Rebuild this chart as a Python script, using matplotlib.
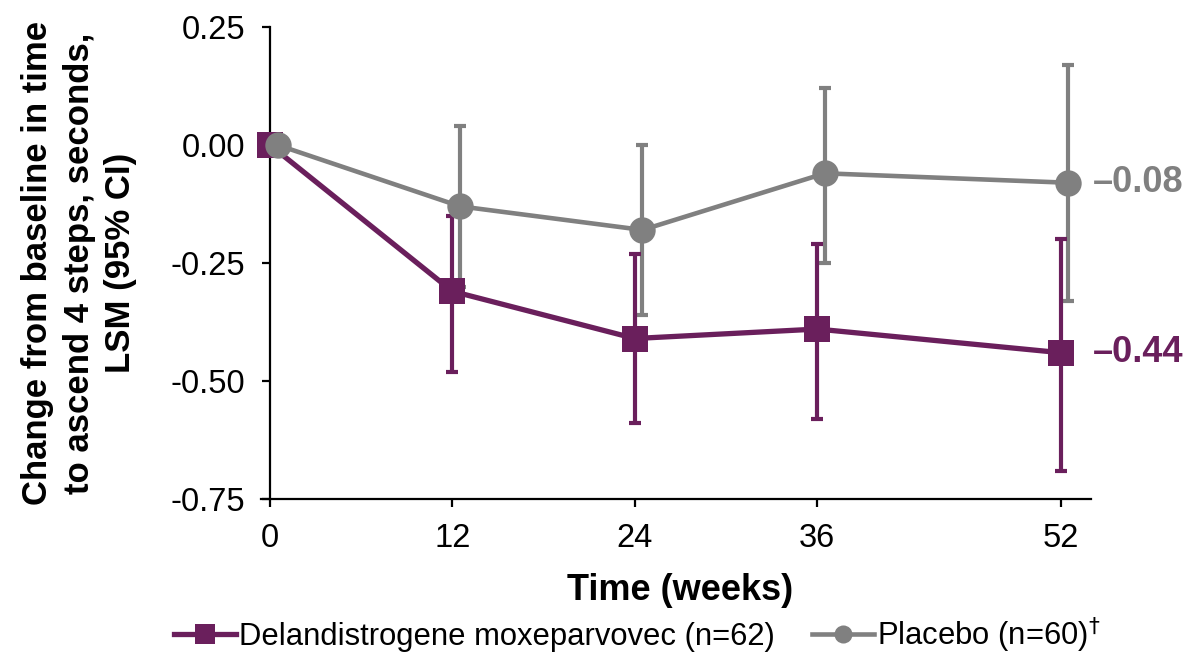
import matplotlib
matplotlib.use("Agg")
import matplotlib.pyplot as plt
from matplotlib.lines import Line2D
import numpy as np

plt.rcParams['font.family'] = ['Liberation Sans', 'DejaVu Sans']

# data
weeks = [0, 12, 24, 36, 52]

dm_lsm = [0.0, -0.31, -0.41, -0.39, -0.44]
dm_low = [0.0, -0.48, -0.59, -0.58, -0.69]
dm_up = [0.0, -0.15, -0.23, -0.21, -0.20]

pl_lsm = [0.0, -0.13, -0.18, -0.06, -0.08]
pl_low = [0.0, -0.30, -0.36, -0.25, -0.33]
pl_up = [0.0, 0.04, 0.00, 0.12, 0.17]

yticks = [0.25, 0.0, -0.25, -0.50, -0.75]
ytick_labels = ['0.25', '0.00', '-0.25', '-0.50', '-0.75']

dm_name = 'Delandistrogene moxeparvovec (n=62)'
pl_name = 'Placebo (n=60)$^{\\dagger}$'

purple = '#6a1f5c'
grey = '#808080'

fig = plt.figure(figsize=(11.91, 6.55), dpi=100)
ax = fig.add_axes([0.2267, 0.2382, 0.6893, 0.7206])

x_dm = np.array(weeks, dtype=float)
x_pl = np.array(weeks, dtype=float) + 0.5  # placebo drawn slightly to the right

dm = np.array(dm_lsm)
pl = np.array(pl_lsm)
dm_err = [dm - np.array(dm_low), np.array(dm_up) - dm]
pl_err = [pl - np.array(pl_low), np.array(pl_up) - pl]

# placebo error bars go under everything
ax.errorbar(x_pl, pl, yerr=pl_err, fmt='none', ecolor=grey, elinewidth=3,
            capsize=4.5, capthick=3, zorder=2, clip_on=False)
ax.errorbar(x_dm, dm, yerr=dm_err, fmt='none', ecolor=purple, elinewidth=3,
            capsize=4.5, capthick=3, zorder=3, clip_on=False)
ax.plot(x_dm, dm, color=purple, lw=3.8, marker='s', ms=19, mew=0, zorder=3,
        clip_on=False)
ax.plot(x_pl, pl, color=grey, lw=3.3, marker='o', ms=19, mew=0, zorder=4,
        clip_on=False)

# end labels
ax.annotate('\u2013%.2f' % abs(pl_lsm[-1]), (x_pl[-1], pl_lsm[-1]),
            xytext=(18, 0), textcoords='offset points', va='center', ha='left',
            fontsize=26, fontweight='bold', color=grey)
ax.annotate('\u2013%.2f' % abs(dm_lsm[-1]), (x_pl[-1], dm_lsm[-1]),
            xytext=(18, 0), textcoords='offset points', va='center', ha='left',
            fontsize=26, fontweight='bold', color=purple)

ax.set_xlim(0, 54)
ax.set_ylim(-0.75, 0.25)
ax.set_xticks(weeks)
ax.set_xticklabels([str(w) for w in weeks])
ax.set_yticks(yticks)
ax.set_yticklabels(ytick_labels)

for s in ['top', 'right']:
    ax.spines[s].set_visible(False)
for s in ['left', 'bottom']:
    ax.spines[s].set_linewidth(1.6)
    ax.spines[s].set_color('black')
ax.spines['bottom'].set_bounds(-0.6, 54)

ax.tick_params(axis='both', direction='out', length=6, width=1.6,
               labelsize=23.5, colors='black')
ax.tick_params(axis='y', pad=12)
ax.tick_params(axis='x', pad=11)

ax.set_xlabel('Time (weeks)', fontsize=26, fontweight='bold', labelpad=14)
ax.set_ylabel('Change from baseline in time\nto ascend 4 steps, seconds,\nLSM (95% CI)',
              fontsize=25, fontweight='bold', linespacing=1.32, labelpad=24)

h_dm = Line2D([], [], color=purple, lw=3.8, marker='s', ms=14, mew=0)
h_pl = Line2D([], [], color=grey, lw=3.3, marker='o', ms=13, mew=0)
fig.legend([h_dm, h_pl], [dm_name, pl_name], loc='lower center',
           bbox_to_anchor=(0.535, -0.042), ncol=2, frameon=False, fontsize=22.3,
           handlelength=2.0, handletextpad=0.1, columnspacing=1.2)

fig.savefig('out.png', dpi=100)
